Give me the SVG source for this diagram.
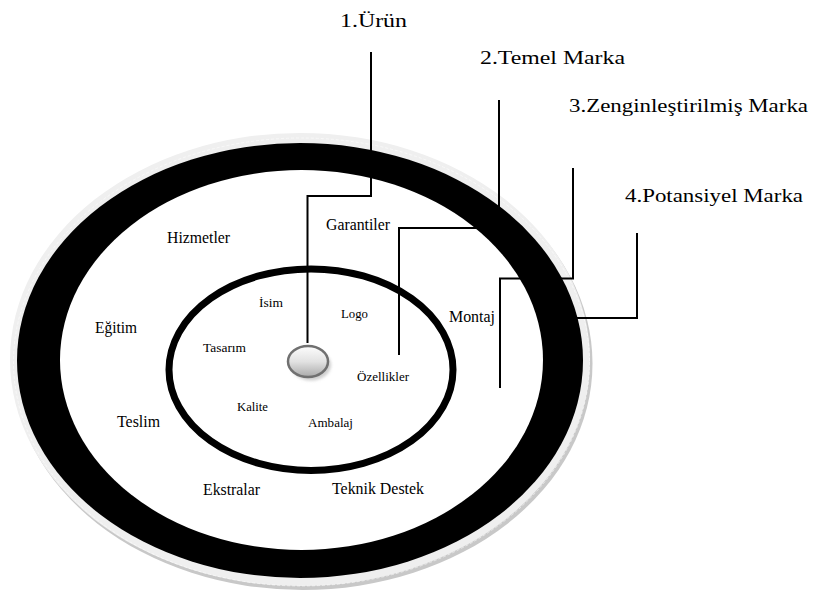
<svg xmlns="http://www.w3.org/2000/svg" width="827" height="596" viewBox="0 0 827 596">
  <defs>
    <linearGradient id="ballFill" x1="0" y1="0" x2="0" y2="1">
      <stop offset="0" stop-color="#fdfdfd"/>
      <stop offset="0.5" stop-color="#e2e2e2"/>
      <stop offset="1" stop-color="#a9a9a9"/>
    </linearGradient>
    <filter id="soft" x="-30%" y="-30%" width="160%" height="160%">
      <feGaussianBlur stdDeviation="1.5"/>
    </filter>
  </defs>

  <rect width="827" height="596" fill="#fff"/>

  <!-- outer disc: bevelled edge, thick black band, white field -->
  <g id="outer-ring">
    <ellipse cx="302.5" cy="363.5" rx="290" ry="226.5" fill="#c8c8c8"/>
    <ellipse cx="300" cy="359.5" rx="290" ry="226.5" fill="#efefef"/>
    <ellipse cx="301.5" cy="362" rx="288" ry="224" fill="none" stroke="#ffffff" stroke-width="0.8" stroke-dasharray="3 2" opacity="0.7"/>
    <ellipse cx="300" cy="360.5" rx="283" ry="217.5" fill="#000"/>
    <ellipse cx="301.5" cy="360" rx="241.5" ry="190" fill="#fff"/>
  </g>

  <!-- inner ring -->
  <g id="inner-ring">
    <ellipse cx="311" cy="369.7" rx="142" ry="100.8" fill="none" stroke="#000" stroke-width="7"/>
  </g>

  <!-- leader lines -->
  <g id="connectors" fill="none" stroke="#000" stroke-width="2">
    <polyline points="371,52 371,196 307.5,196 307.5,343"/>
    <polyline points="499,100 499,228 399,228 399,355"/>
    <polyline points="573,168 573,278.5 500,278.5 500,388"/>
    <polyline points="637,233 637,318 560,318"/>
  </g>

  <!-- core product -->
  <g id="core">
    <ellipse cx="311" cy="365" rx="20" ry="15.5" fill="#cfcfcf" filter="url(#soft)"/>
    <ellipse cx="308" cy="361.5" rx="20" ry="15.5" fill="url(#ballFill)" stroke="#707070" stroke-width="2.5"/>
  </g>

  <g id="label-urun"><text x="340" y="27" font-family="Liberation Serif" font-size="19" textLength="67" lengthAdjust="spacingAndGlyphs">1.&#220;r&#252;n</text></g>
  <g id="label-temel"><text x="480" y="64" font-family="Liberation Serif" font-size="19" textLength="145" lengthAdjust="spacingAndGlyphs">2.Temel Marka</text></g>
  <g id="label-zengin"><text x="569" y="112" font-family="Liberation Serif" font-size="19" textLength="239" lengthAdjust="spacingAndGlyphs">3.Zenginle&#351;tirilmi&#351; Marka</text></g>
  <g id="label-potansiyel"><text x="625" y="202" font-family="Liberation Serif" font-size="19" textLength="178" lengthAdjust="spacingAndGlyphs">4.Potansiyel Marka</text></g>

  <!-- augmented layer items -->
  <g id="augmented-items">
    <text x="167" y="243" font-family="Liberation Serif" font-size="16" textLength="63" lengthAdjust="spacingAndGlyphs">Hizmetler</text>
    <text x="326" y="230" font-family="Liberation Serif" font-size="16" textLength="64" lengthAdjust="spacingAndGlyphs">Garantiler</text>
    <text x="95" y="333" font-family="Liberation Serif" font-size="16" textLength="42" lengthAdjust="spacingAndGlyphs">E&#287;itim</text>
    <text x="449" y="322" font-family="Liberation Serif" font-size="16" textLength="46" lengthAdjust="spacingAndGlyphs">Montaj</text>
    <text x="117" y="427" font-family="Liberation Serif" font-size="16" textLength="43" lengthAdjust="spacingAndGlyphs">Teslim</text>
    <text x="203" y="495" font-family="Liberation Serif" font-size="16" textLength="57" lengthAdjust="spacingAndGlyphs">Ekstralar</text>
    <text x="332" y="494" font-family="Liberation Serif" font-size="16" textLength="92" lengthAdjust="spacingAndGlyphs">Teknik Destek</text>
  </g>

  <!-- basic brand items -->
  <g id="basic-items">
    <text x="259" y="307" font-family="Liberation Serif" font-size="13" textLength="24" lengthAdjust="spacingAndGlyphs">&#304;sim</text>
    <text x="341" y="318" font-family="Liberation Serif" font-size="13" textLength="27" lengthAdjust="spacingAndGlyphs">Logo</text>
    <text x="203" y="352" font-family="Liberation Serif" font-size="13" textLength="43" lengthAdjust="spacingAndGlyphs">Tasar&#305;m</text>
    <text x="357" y="381" font-family="Liberation Serif" font-size="13" textLength="52" lengthAdjust="spacingAndGlyphs">&#214;zellikler</text>
    <text x="237" y="411" font-family="Liberation Serif" font-size="13" textLength="31" lengthAdjust="spacingAndGlyphs">Kalite</text>
    <text x="308" y="427" font-family="Liberation Serif" font-size="13" textLength="45" lengthAdjust="spacingAndGlyphs">Ambalaj</text>
  </g>
</svg>
